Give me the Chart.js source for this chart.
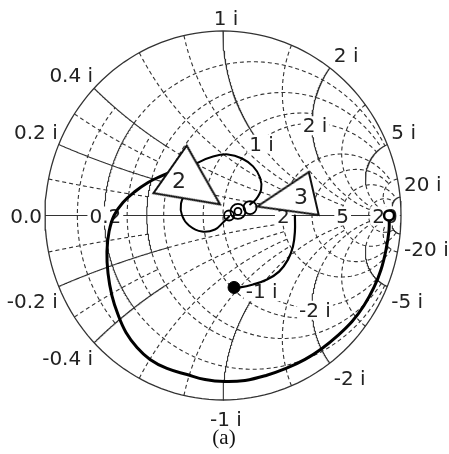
<!DOCTYPE html>
<html><head><meta charset="utf-8">
<script src="https://cdn.jsdelivr.net/npm/chart.js@4.4.1/dist/chart.umd.min.js"></script>
<style>html,body{margin:0;padding:0;background:#fff}canvas{display:block}</style>
</head><body>
<canvas id="c" width="449" height="454"></canvas>
<script>
// ---------- tick values of the Smith chart ----------
const reactanceTicks = [0.2, 0.4, 1, 2, 5, 20];      // labelled on the rim (± i)
const resistanceTicks = [0, 0.2, 2, 5, 20];          // labelled on the real axis
const innerReactanceTicks = [1, 2, -1, -2];          // labelled on the r = 1 circle

const spiralRe = [0.933,0.933,0.916,0.888,0.848,0.792,0.725,0.646,0.556,0.461,0.354,0.242,0.124,0.011,-0.101,-0.202,-0.315,-0.410,-0.483,-0.545,-0.590,-0.624,-0.646,-0.652,-0.640,-0.612,-0.562,-0.494,-0.421,-0.354,-0.287];
const spiralIm = [0.000,-0.076,-0.184,-0.293,-0.390,-0.488,-0.575,-0.650,-0.721,-0.780,-0.829,-0.867,-0.894,-0.900,-0.889,-0.862,-0.829,-0.780,-0.715,-0.634,-0.537,-0.434,-0.314,-0.195,-0.087,0.000,0.070,0.130,0.179,0.211,0.238];

const loopUpperRe = [-0.208,-0.140,-0.056,0.028,0.107,0.169,0.208,0.214,0.185,0.152];
const loopUpperIm = [0.238,0.287,0.320,0.331,0.309,0.266,0.206,0.141,0.087,0.060];
const loopLowerRe = [-0.208,-0.236,-0.230,-0.191,-0.118,-0.045,0.000,0.034];
const loopLowerIm = [0.130,0.065,0.000,-0.054,-0.087,-0.076,-0.038,-0.005];

const smallLoopRe = [0.034,0.084,0.084,0.152];
const smallLoopIm = [0.000,0.022,0.022,0.043];

const arcRe = [0.404,0.404,0.393,0.365,0.315,0.247,0.169,0.096,0.062];
const arcIm = [0.000,-0.087,-0.168,-0.239,-0.304,-0.347,-0.374,-0.390,-0.390];

const startPoint = [0.933, 0.000];
const endPoint = [0.062, -0.390];

const arrowRe = [-0.157, 0.351];
const arrowIm = [0.155, 0.084];
const arrowLabels = ['2', '3'];
const arrowLabelRe = [-0.247, 0.438];
const arrowLabelIm = [0.179, 0.092];

// ---------- Smith chart helpers ----------
function gamma(r, x) {
  if (!isFinite(r) || !isFinite(x)) return {x: 1, y: 0};
  const den = (r + 1) * (r + 1) + x * x;
  return {x: (r * r - 1 + x * x) / den, y: (2 * x) / den};
}
function rCircle(r, x1, x2, n = 160) {
  const a = Math.atan(x1 / (r + 1)), b = Math.atan(x2 / (r + 1)), pts = [];
  for (let i = 0; i <= n; i++) { const f = a + (b - a) * i / n; pts.push(gamma(r, (r + 1) * Math.tan(f))); }
  return pts;
}
function xArc(x, r1, r2, n = 160) {
  const a = Math.atan((r1 + 1) / x), b = Math.atan((r2 + 1) / x), pts = [];
  for (let i = 0; i <= n; i++) { const f = a + (b - a) * i / n; pts.push(gamma(Math.max(0, x * Math.tan(f) - 1), x)); }
  return pts;
}
const zip = (re, im) => re.map((v, i) => ({x: v, y: im[i]}));

// ---------- grid definition ----------
const GRID = '#333';
const solidR = [[0, -Infinity, Infinity], [0.2, -0.4, 0.4], [0.4, -0.2, 0.2]];
const solidX = [[0.2, 0, 0.5], [0.4, 0, 0.4], [1, 0, 1], [2, 0, 2], [5, 0, 5], [20, 0, 20]];
const dashedR = [[0.1, -0.4, 0.4], [0.2, 0.4, 5], [0.2, -5, -0.4], [0.3, -0.4, 0.4], [0.4, 0.2, 1], [0.4, -1, -0.2],
  [0.5, -5, 5], [0.8, -2, 2], [1, -5, 5], [2, -10, 10], [3, -10, 10], [5, -20, 20], [10, -20, 20]];
const dashedX = [[0.1, 0, 0.4], [0.3, 0, 0.4], [0.2, 0.5, 2], [0.4, 0.4, 2], [0.6, 0, 2], [0.8, 0, 2], [1, 1, 5],
  [1.5, 0, 5], [2, 2, 10], [3, 0, 10], [5, 5, 20], [10, 0, 20]];

const datasets = [];
function gridDs(pts, dashed, w) {
  datasets.push({layer: 'grid', data: pts, showLine: true, pointRadius: 0, borderColor: GRID,
    borderWidth: w || 1.1, borderDash: dashed ? [4, 3] : [], fill: false, tension: 0, clip: false, order: 20});
}
dashedR.forEach(([r, a, b]) => gridDs(rCircle(r, a, b), true));
dashedX.forEach(([x, a, b]) => { gridDs(xArc(x, a, b), true); gridDs(xArc(-x, a, b), true); });
solidR.forEach(([r, a, b]) => gridDs(rCircle(r, a, b), false, r === 0 ? 1.3 : 1.1));
solidX.forEach(([x, a, b]) => { gridDs(xArc(x, a, b), false); gridDs(xArc(-x, a, b), false); });
gridDs([{x: -1, y: 0}, {x: 1, y: 0}], false, 1.2);

// ---------- locus ----------
function lineDs(pts, w, order) {
  datasets.push({data: pts, showLine: true, pointRadius: 0, borderColor: '#000', borderWidth: w,
    fill: false, tension: 0.4, clip: false, order: order, borderCapStyle: 'round', borderJoinStyle: 'round'});
}
lineDs(zip(spiralRe, spiralIm), 3, 10);
lineDs(zip(loopUpperRe, loopUpperIm), 2, 10);
lineDs(zip(loopLowerRe, loopLowerIm), 2, 10);
lineDs(zip(arcRe, arcIm), 2.2, 10);

datasets.push({data: zip(smallLoopRe, smallLoopIm), showLine: false, pointStyle: 'circle',
  pointRadius: [5, 7.5, 3.5, 6.5], pointBorderWidth: 1.8, pointBorderColor: '#000',
  pointBackgroundColor: 'rgba(255,255,255,0)', clip: false, order: 8});

// arrow markers (isosceles, tip up before rotation)
function arrowCanvas(len, base, lw) {
  const c = document.createElement('canvas');
  c.width = Math.ceil(base + 2 * lw + 4); c.height = Math.ceil(len + 2 * lw + 4);
  const g = c.getContext('2d');
  const m = lw + 2;
  g.beginPath(); g.moveTo(c.width / 2, m); g.lineTo(c.width - m, c.height - m); g.lineTo(m, c.height - m); g.closePath();
  g.fillStyle = '#fff'; g.fill(); g.lineWidth = lw; g.strokeStyle = '#111'; g.lineJoin = 'miter'; g.stroke();
  return c;
}
const arrowShapes = [arrowCanvas(61, 58, 2), arrowCanvas(58, 44, 2)];
const arrowRot = [125, -103];
arrowRe.forEach((v, i) => {
  datasets.push({data: [{x: v, y: arrowIm[i]}], showLine: false, pointStyle: arrowShapes[i],
    pointRadius: 1, pointRotation: arrowRot[i], clip: false, order: 5});
});

datasets.push({data: [{x: startPoint[0], y: startPoint[1]}], showLine: false, pointStyle: 'circle', pointRadius: 5,
  pointBorderWidth: 2.5, pointBorderColor: '#000', pointBackgroundColor: '#fff', clip: false, order: 3});
datasets.push({data: [{x: endPoint[0], y: endPoint[1]}], showLine: false, pointStyle: 'circle', pointRadius: 6,
  pointBorderWidth: 1, pointBorderColor: '#000', pointBackgroundColor: '#000', clip: false, order: 3});

// ---------- text ----------
const FONT = '20px "DejaVu Sans"';
const fmt = v => (v === 0 ? '0.0' : String(v));
function px(chart, g) { return {x: chart.scales.x.getPixelForValue(g.x), y: chart.scales.y.getPixelForValue(g.y)}; }
function boxText(ctx, t, cx, base) {
  const w = ctx.measureText(t).width;
  ctx.fillStyle = '#fff'; ctx.fillRect(cx - w / 2 - 2, base - 16, w + 4, 19);
  ctx.fillStyle = '#222'; ctx.textAlign = 'center'; ctx.fillText(t, cx, base);
}
function drawGridLabels(chart) {
  const ctx = chart.ctx; ctx.save(); ctx.font = FONT; ctx.fillStyle = '#222'; ctx.textBaseline = 'alphabetic';
  reactanceTicks.forEach(v => [v, -v].forEach(xv => {
    const g = gamma(0, xv), p = px(chart, g), t = fmt(xv) + ' i';
    const center = Math.abs(g.x) < 0.15;
    let x;
    if (center) { ctx.textAlign = 'center'; x = p.x + 3; }
    else if (g.x > 0) { ctx.textAlign = 'left'; x = p.x + 4; }
    else { ctx.textAlign = 'right'; x = p.x - 1; }
    const y = xv > 0 ? p.y - 6 : p.y + (center ? 26 : 22);
    ctx.fillStyle = '#222'; ctx.fillText(t, x, y);
  }));
  resistanceTicks.forEach(r => {
    const p = px(chart, gamma(r, 0)), t = fmt(r);
    if (r === 0) { ctx.textAlign = 'right'; ctx.fillStyle = '#222'; ctx.fillText(t, p.x - 3, p.y + 7); }
    else boxText(ctx, t, p.x + 1, p.y + 7);
  });
  innerReactanceTicks.forEach(xv => {
    const p = px(chart, gamma(1, xv));
    boxText(ctx, fmt(xv) + ' i', p.x + 3, p.y + 9);
  });
  ctx.restore();
}
const labelPlugin = {
  id: 'smithLabels',
  beforeDraw(chart) { chart.$lblDone = false; },
  beforeDatasetDraw(chart, args) {
    const ds = chart.data.datasets[args.index];
    if (!chart.$lblDone && ds.layer !== 'grid') { drawGridLabels(chart); chart.$lblDone = true; }
  },
  afterDatasetsDraw(chart) {
    if (!chart.$lblDone) { drawGridLabels(chart); chart.$lblDone = true; }
    const ctx = chart.ctx; ctx.save(); ctx.font = '22px "DejaVu Sans"'; ctx.fillStyle = '#222';
    ctx.textAlign = 'center'; ctx.textBaseline = 'middle';
    arrowLabels.forEach((t, i) => { const p = px(chart, {x: arrowLabelRe[i], y: arrowLabelIm[i]}); ctx.fillText(t, p.x, p.y); });
    ctx.restore();
  },
  afterDraw(chart) {
    const ctx = chart.ctx; ctx.save(); ctx.font = '21px "Liberation Serif"'; ctx.fillStyle = '#111';
    ctx.textAlign = 'center'; ctx.textBaseline = 'alphabetic'; ctx.fillText('(a)', 224, 444); ctx.restore();
  }
};

new Chart(document.getElementById('c'), {
  type: 'scatter',
  data: {datasets},
  options: {
    responsive: false, animation: false, devicePixelRatio: 1, events: [],
    layout: {padding: {left: 45, right: 48, top: 31, bottom: 54}},
    scales: {x: {type: 'linear', min: -1, max: 1, display: false}, y: {type: 'linear', min: -1, max: 1, display: false}},
    plugins: {legend: {display: false}, tooltip: {enabled: false}}
  },
  plugins: [labelPlugin]
});
</script>
</body></html>
